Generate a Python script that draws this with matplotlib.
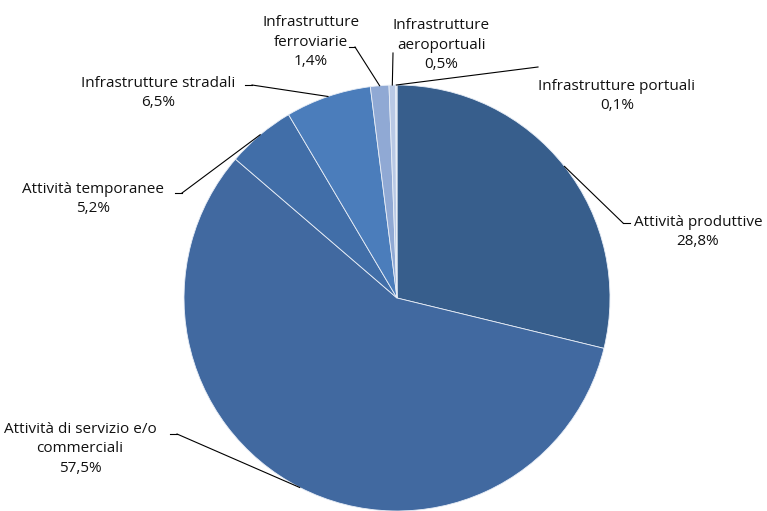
import numpy as np
import matplotlib
matplotlib.use("Agg")
import matplotlib.pyplot as plt

categorie = ["Attività produttive", "Attività di servizio e/o\ncommerciali",
             "Attività temporanee", "Infrastrutture stradali",
             "Infrastrutture\nferroviarie", "Infrastrutture\naeroportuali",
             "Infrastrutture portuali"]
valori = [28.8, 57.5, 5.2, 6.5, 1.4, 0.5, 0.1]
colori = ["#375E8C", "#4169A0", "#416EA8", "#4B7DBB", "#90A9D4", "#B9C9E5", "#D6E0F0"]

# layout (pixel): posizione testo e punto di gomito della linea guida
pos_testo = [(698, 232), (80, 449), (93, 199), (158, 93), (311, 42), (441, 45), (617, 96)]
gomito = [(623, 223), (177, 434), (182, 193), (252, 85), (355, 47), (393, 53), (538, 67)]

W, H = 767, 511
cx, cy, r = 397, 298, 213

fig = plt.figure(figsize=(W / 100, H / 100), dpi=100)
ax = fig.add_axes([0, 0, 1, 1])

# asse y invertito: counterclock=True diventa senso orario a schermo
wedges, _ = ax.pie(valori, colors=colori, startangle=-90, counterclock=True,
                   center=(cx, cy), radius=r, frame=True,
                   wedgeprops=dict(edgecolor="#E8EEF7", linewidth=0.6))
ax.set_xlim(0, W)
ax.set_ylim(H, 0)
ax.axis("off")

for w, lab, v, pt, gm in zip(wedges, categorie, valori, pos_testo, gomito):
    ang = np.deg2rad((w.theta1 + w.theta2) / 2)
    x0 = cx + r * np.cos(ang)
    y0 = cy + r * np.sin(ang)
    ax.plot([x0, gm[0]], [y0, gm[1]], color="black", lw=0.8)
    if gm[0] < cx - 5 and gm[1] > 60:
        ax.plot([gm[0] - 7, gm[0]], [gm[1], gm[1]], color="black", lw=0.8)
    elif gm[0] < cx - 5:
        ax.plot([gm[0] - 6, gm[0]], [gm[1], gm[1]], color="black", lw=0.8)
    elif gm[0] > cx + 5 and gm[1] > 100:
        ax.plot([gm[0], gm[0] + 7], [gm[1], gm[1]], color="black", lw=0.8)
    testo = lab + "\n" + ("%.1f%%" % v).replace(".", ",")
    ax.text(pt[0], pt[1], testo, ha="center", va="center", fontsize=11,
            linespacing=1.42, color="#111111", family=["Open Sans", "DejaVu Sans"])

fig.savefig("out.png", dpi=100, facecolor="white")
